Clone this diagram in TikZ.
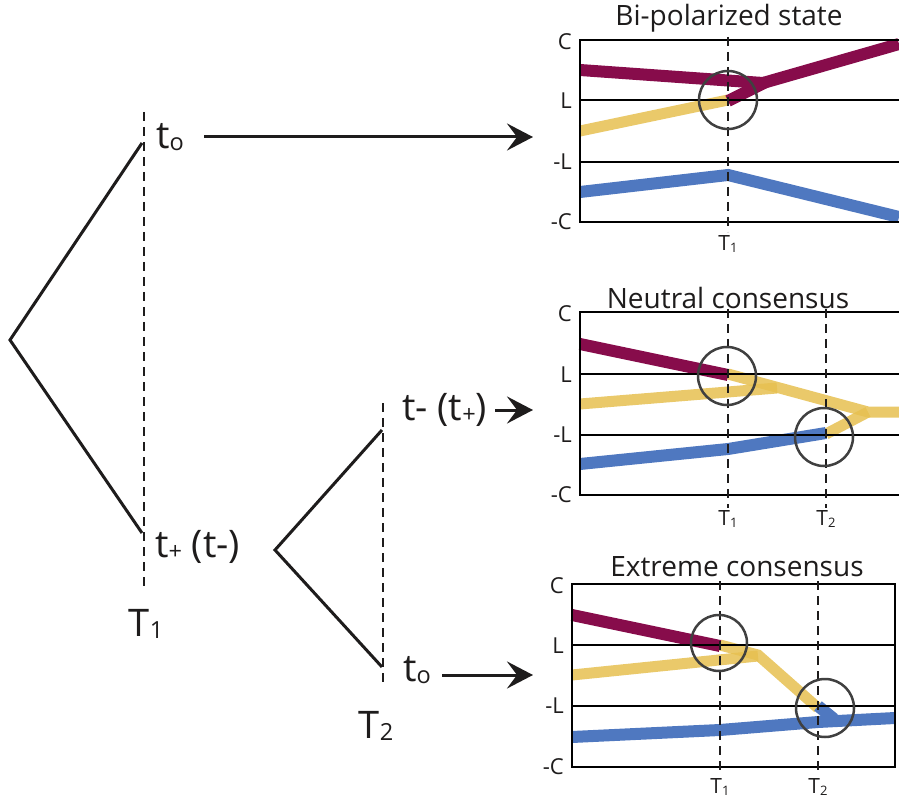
\documentclass[tikz,border=0pt]{standalone}
\usepackage{fontspec}
\usepackage{graphicx}
\setmainfont{Open Sans}
\usetikzlibrary{arrows.meta}
\definecolor{cpur}{RGB}{135,12,75}
\definecolor{cyel}{RGB}{230,192,80}
\definecolor{cblu}{RGB}{79,120,192}
\definecolor{ccir}{RGB}{64,64,64}
\definecolor{cink}{RGB}{30,28,28}
\newcommand{\sbx}[1]{\raisebox{-0.06em}{\scalebox{0.62}{#1}}}
\begin{document}
\begin{tikzpicture}[x=1pt,y=-1pt,
  tree/.style={line width=3pt, cink},
  dashv/.style={cink, dash pattern=on 9pt off 6pt, line width=2pt},
  arr/.style={cink, line width=3pt, -{Stealth[length=26pt,width=27pt,inset=10pt]}},
  frame/.style={line width=2pt, black},
  ln/.style={line width=12pt},
  yl/.style={line width=11pt, cyel, opacity=0.85},
  circ/.style={ccir, line width=2.5pt},
  big/.style={font=\fontsize{38}{44}\selectfont, text=cink, inner sep=0pt},
  ttl/.style={font=\fontsize{28}{32}\selectfont, text=cink, inner sep=0pt},
  ax/.style={font=\fontsize{22}{26}\selectfont, text=cink, inner sep=0pt, anchor=east},
  tk/.style={font=\fontsize{21}{24}\selectfont, text=cink, inner sep=0pt}]
\useasboundingbox (0,0) rectangle (899,799);

% ---------- left tree ----------
\coordinate (r1) at (10,340);
\coordinate (u1) at (142,143);
\coordinate (d1) at (142,533);
\coordinate (v1a) at (144,112);
\coordinate (v1b) at (144,588);
\draw[dashv] (v1a) -- (v1b);
\draw[tree] (u1) -- (r1) -- (d1);
\node[big, anchor=west] (lt0) at (156,137) {t\sbx{o}};
\node[big, anchor=west] (ltp) at (155,547) {t\sbx{+} (t-)};
\node[big] (lT1) at (146,624) {T\sbx{1}};
\coordinate (a1s) at (204,137);
\coordinate (a1e) at (533,137);
\draw[arr] (a1s) -- (a1e);

% ---------- second tree ----------
\coordinate (r2) at (275,550);
\coordinate (u2) at (382,430);
\coordinate (d2) at (382,667);
\coordinate (v2a) at (383,403);
\coordinate (v2b) at (383,686);
\draw[dashv] (v2a) -- (v2b);
\draw[tree] (u2) -- (r2) -- (d2);
\node[big, anchor=west] (ltm) at (402,410) {t- (t\sbx{+})};
\node[big, anchor=west] (lt0b) at (403,670) {t\sbx{o}};
\node[big] (lT2) at (376,726) {T\sbx{2}};
\coordinate (a2s) at (495,410);
\coordinate (a2e) at (533,410);
\draw[arr] (a2s) -- (a2e);
\coordinate (a3s) at (442,675);
\coordinate (a3e) at (533,675);
\draw[arr] (a3s) -- (a3e);

% ---------- chart 1: Bi-polarized state ----------
\node[ttl] (t1) at (729,18) {Bi-polarized state};
\draw[yl] (580,131) -- (728,100);
\draw[ln,cpur] (580,70) -- (763,83) -- (899,44);
\draw[ln,cpur] (728,101) -- (766,82);
\draw[ln,cblu] (580,192) -- (728,175) -- (899,217);
\draw[frame] (899,40) -- (580,40) -- (580,222) -- (899,222);
\draw[frame] (580,100) -- (899,100);
\draw[frame] (580,162) -- (899,162);
\draw[dashv] (728,37) -- (728,232);
\draw[circ] (728,100) circle[radius=29pt];
\node[ax] (c1a) at (572,42) {C};
\node[ax] (c1b) at (572,101) {L};
\node[ax] (c1c) at (572,162) {-L};
\node[ax] (c1d) at (572,222) {-C};
\node[tk] (c1t) at (728,244) {T\sbx{1}};

% ---------- chart 2: Neutral consensus ----------
\node[ttl] (t2) at (728,298) {Neutral consensus};
\draw[yl] (580,404) -- (777,388);
\draw[yl] (728,374) -- (868,412) -- (899,412);
\draw[yl] (826,434) -- (868,412);
\draw[ln,cpur] (580,344) -- (728,375);
\draw[ln,cblu] (580,464) -- (728,449) -- (826,433);
\draw[frame] (899,312) -- (580,312) -- (580,495) -- (899,495);
\draw[frame] (580,374) -- (899,374);
\draw[frame] (580,435) -- (899,435);
\draw[dashv] (728,309) -- (728,508);
\draw[dashv] (826,309) -- (826,508);
\draw[circ] (727,376) circle[radius=29pt];
\draw[circ] (824,437) circle[radius=29pt];
\node[ax] (c2a) at (572,314) {C};
\node[ax] (c2b) at (572,375) {L};
\node[ax] (c2c) at (572,435) {-L};
\node[ax] (c2d) at (572,495) {-C};
\node[tk] (c2t1) at (728,519) {T\sbx{1}};
\node[tk] (c2t2) at (826,519) {T\sbx{2}};

% ---------- chart 3: Extreme consensus ----------
\node[ttl] (t3) at (737,567) {Extreme consensus};
\draw[yl] (572,675) -- (758,656);
\draw[yl] (720,645) -- (758,655) -- (818,708);
\draw[ln,cpur] (572,615) -- (720,646);
\draw[ln,cblu] (572,737) -- (720,730) -- (818,722) -- (895,718);
\draw[ln,cblu] (818,706) -- (834,719);
\draw[frame] (572,584) rectangle (895,767);
\draw[frame] (572,645) -- (895,645);
\draw[frame] (572,706) -- (895,706);
\draw[dashv] (720,581) -- (720,775);
\draw[dashv] (818,581) -- (818,775);
\draw[circ] (719,643) circle[radius=28pt];
\draw[circ] (825,708) circle[radius=29pt];
\node[ax] (c3a) at (564,586) {C};
\node[ax] (c3b) at (564,646) {L};
\node[ax] (c3c) at (564,706) {-L};
\node[ax] (c3d) at (564,767) {-C};
\node[tk] (c3t1) at (720,787) {T\sbx{1}};
\node[tk] (c3t2) at (818,787) {T\sbx{2}};
\end{tikzpicture}
\end{document}
